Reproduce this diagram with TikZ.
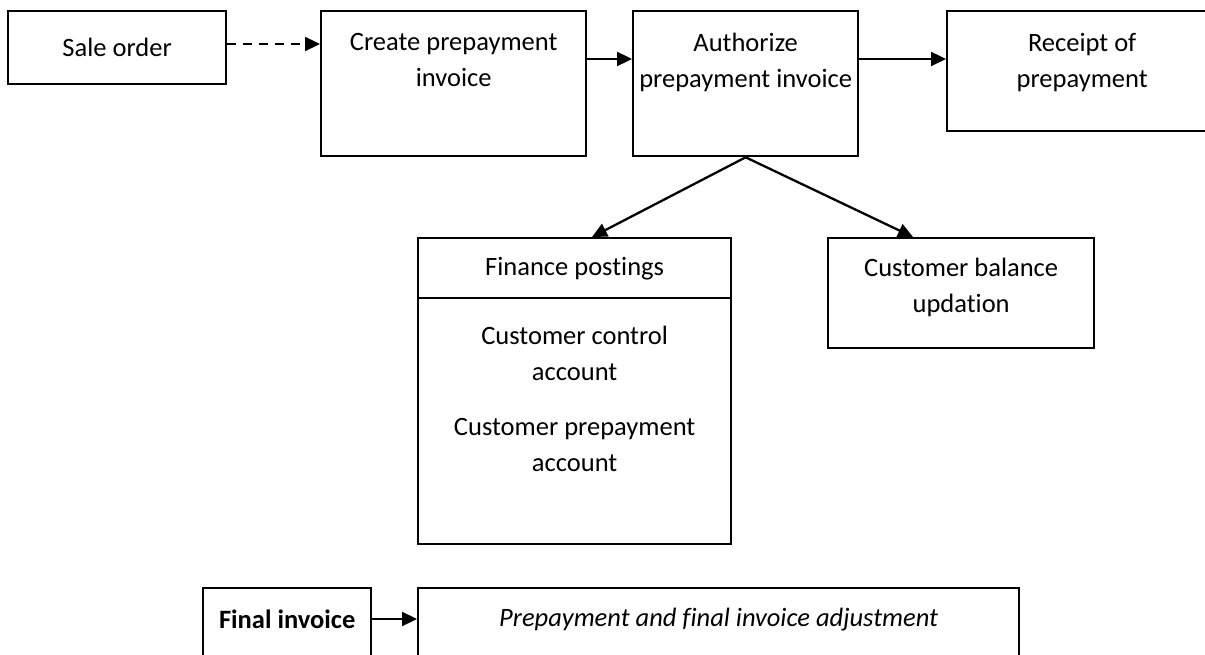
\documentclass[tikz,border=0pt]{standalone}
\usepackage{fontspec}
\setmainfont[Ligatures=NoCommon]{Carlito}
\usetikzlibrary{arrows.meta,calc}
\begin{document}
\begin{tikzpicture}[x=1pt,y=-1pt,
  box/.style={draw,line width=2.3pt,inner sep=0pt,anchor=north west},
  txt/.style={align=center,font=\fontsize{26.5}{36}\selectfont,inner sep=0pt},
  flow/.style={line width=2.3pt,-{Triangle[length=15pt,width=14pt]}},
  dflow/.style={flow,dash pattern=on 9pt off 7pt}]
\useasboundingbox (0,0) rectangle (1205,655);
\clip (0,0) rectangle (1205,655);
% top row
\node[box,minimum width=218pt,minimum height=73pt] (sale) at (7,10) {};
\node[box,minimum width=265pt,minimum height=145pt] (create) at (320,10) {};
\node[box,minimum width=225pt,minimum height=145pt] (auth) at (632,10) {};
\node[box,minimum width=270pt,minimum height=120pt] (receipt) at (946,10) {};
\node[txt] (saletxt) at (sale.center) {Sale order};
\node[txt,anchor=north] (createtxt) at ($(create.north)+(0,23)$) {Create prepayment\\invoice};
\node[txt,anchor=north] (authtxt) at ($(auth.north)+(0,23)$) {Authorize\\prepayment invoice};
\node[txt,anchor=north] (receipttxt) at ($(receipt.north)+(0,23)$) {Receipt of\\prepayment};
% middle row: finance postings with a header band, customer balance
\node[box,minimum width=313pt,minimum height=306pt] (fin) at (417,237) {};
\coordinate (divl) at ($(fin.north west)+(0,61)$);
\coordinate (divr) at ($(fin.north east)+(0,61)$);
\draw[line width=2.3pt] (divl) -- (divr);
\node[txt] (fintxt) at ($(fin.north)+(0,32)$) {Finance postings};
\node[txt,anchor=north] (acctxt) at ($(fin.north)+(0,89)$) {Customer control\\account\\[19pt]Customer prepayment\\account};
\node[box,minimum width=266pt,minimum height=110pt] (bal) at (827,237) {};
\node[txt,anchor=north] (baltxt) at ($(bal.north)+(0,21)$) {Customer balance\\updation};
% bottom row
\node[box,minimum width=168pt,minimum height=120pt] (final) at (202,587) {};
\node[box,minimum width=601pt,minimum height=120pt] (adj) at (417,587) {};
\node[txt,font=\fontsize{26.5}{36}\selectfont\bfseries] (finaltxt) at ($(final.north)+(0,32)$) {Final invoice};
\node[txt,font=\fontsize{26.5}{36}\selectfont\itshape] (adjtxt) at ($(adj.north)+(0,33)$) {Prepayment and final invoice adjustment};
% connectors
\draw[dflow] (sale.east |- 0,44) -- (create.west |- 0,44);
\draw[flow] (create.east |- 0,59) -- (auth.west |- 0,59);
\draw[flow] (auth.east |- 0,59) -- (receipt.west |- 0,59);
\coordinate (fintip) at (592,237);
\coordinate (baltip) at (913,237);
\draw[flow] (auth.south) -- (fintip);
\draw[flow] (auth.south) -- (baltip);
\draw[flow] (final.east |- 0,619) -- (adj.west |- 0,619);
\end{tikzpicture}
\end{document}
